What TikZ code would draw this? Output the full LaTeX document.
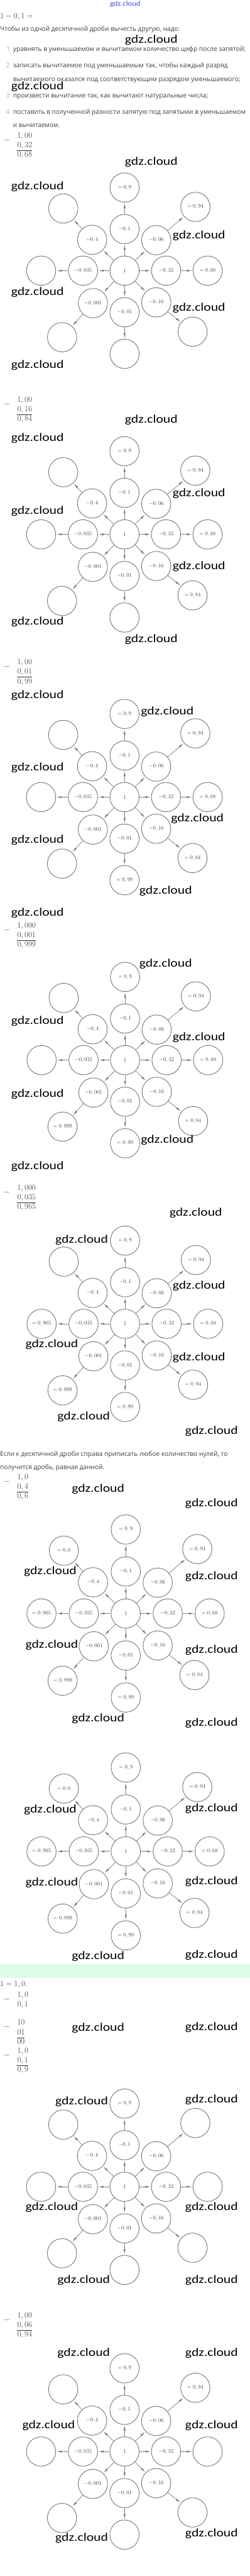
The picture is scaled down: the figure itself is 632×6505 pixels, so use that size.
\RequirePackage{fix-cm}
\documentclass[tikz,border=0pt]{standalone}
\usepackage{graphicx}
\usepackage{fontspec}
\newfontfamily\osans{Open Sans}
\newfontfamily\calib{Carlito}
\usetikzlibrary{arrows.meta}
\definecolor{mint}{RGB}{220,252,231}
\definecolor{wmblue}{RGB}{70,70,210}
\tikzset{
  circ/.style={circle, draw=black!55, line width=1.4pt, minimum size=74pt, inner sep=0pt,
    font=\fontsize{14}{16}\selectfont, text=black!80},
  arr/.style={draw=black!50, line width=1.2pt, shorten >=1.5pt, -{Latex[length=13pt,width=5.5pt]}},
  body/.style={anchor=base west, inner sep=0pt, font=\osans\fontsize{16.5}{19}\selectfont, text=black!75},
  lnum/.style={body, text=black!30},
  wm/.style={inner sep=0pt, font=\calib\fontsize{29}{32}\selectfont, text=black},
  stknum/.style={anchor=base west, inner sep=0pt, font=\fontsize{20.5}{24}\selectfont, text=black!80},
  stkmin/.style={inner sep=0pt, font=\fontsize{20.5}{24}\selectfont, text=black!80},
  stkline/.style={draw=black!80, line width=0.9pt},
  mathline/.style={anchor=base west, inner sep=0pt, font=\fontsize{20.5}{24}\selectfont, text=black!80}
}
\newcommand\fit[2]{\resizebox{#1pt}{\height}{#2}}
\newcommand\wmk[3]{\node[wm] (#1) at (#2,#3) {\resizebox{133pt}{\height}{gdz.cloud}};}
\newcommand\stk[5]{%
  \begin{scope}[name prefix=#1-]
    \node[stkmin] (m) at (17.5,#2+6) {$-$};
    \node[stknum] (a) at (43.5,#2) {$#3$};
    \node[stknum] (b) at (43.5,#2+24) {$#4$};
    \if\relax\detokenize{#5}\relax\else
      \node[stknum] (c) at (43.5,#2+48) {$#5$};
      \coordinate (ly) at (0,#2+31.5);
      \draw[stkline] (c.west |- ly) -- (c.east |- ly);
    \fi
  \end{scope}}
\newcommand\dgset[8]{\def\dgU{#1}\def\dgUL{#2}\def\dgUR{#3}\def\dgL{#4}\def\dgR{#5}\def\dgDL{#6}\def\dgD{#7}\def\dgDR{#8}}
\newcommand\diag[4]{%
  \begin{scope}[shift={(#2,#3)}, scale=#4, name prefix=#1-]
    \node[circ] (c) at (0,0) {$1$};
    \node[circ] (u1) at (0,-105) {$-0,1$};
    \node[circ] (u2) at (0,-210) {\dgU};
    \node[circ] (ul1) at (-82,-78) {$-0,4$};
    \node[circ] (ul2) at (-155,-157) {\dgUL};
    \node[circ] (ur1) at (80,-77) {$-0,06$};
    \node[circ] (ur2) at (179,-161) {\dgUR};
    \node[circ] (l1) at (-105,0) {$-0,035$};
    \node[circ] (l2) at (-211,0) {\dgL};
    \node[circ] (r1) at (105,0) {$-0,32$};
    \node[circ] (r2) at (210,0) {\dgR};
    \node[circ] (dl1) at (-80,82) {$-0,001$};
    \node[circ] (dl2) at (-158,168) {\dgDL};
    \node[circ] (d1) at (0,105) {$-0,01$};
    \node[circ] (d2) at (0,210) {\dgD};
    \node[circ] (dr1) at (80,80) {$-0,16$};
    \node[circ] (dr2) at (172,154) {\dgDR};
    \foreach \a in {u,ul,ur,l,r,dl,d,dr}{\draw[arr] (c) -- (\a1); \draw[arr] (\a1) -- (\a2);}
  \end{scope}}
\begin{document}
\begin{tikzpicture}[x=1pt,y=-1pt]
\useasboundingbox (0,0) rectangle (632,6505);
\fill[white] (0,0) rectangle (632,6505);
\fill[mint] (0,4959) rectangle (632,4994);

\node[inner sep=0pt, font=\calib\fontsize{17.5}{20}\selectfont, text=wmblue] (top) at (316.5,11) {\resizebox{77pt}{\height}{gdz.cloud}};
\node[mathline] (eq0) at (0,47) {$1-0,1=$};

\node[body] (t0) at (0,79.2) {\fit{454.7}{Чтобы из одной десятичной дроби вычесть другую, надо:}};
\node[lnum] (n1) at (16,129.3) {1};
\node[body] (t1) at (33,129.3) {\fit{587.7}{уравнять в уменьшаемом и вычитаемом количество цифр после запятой;}};
\node[lnum] (n2) at (15,171.4) {2};
\node[body] (t2) at (33,171.4) {\fit{542.6}{записать вычитаемое под уменьшаемым так, чтобы каждый разряд}};
\node[body] (t2b) at (33,205) {\fit{574.8}{вычитаемого оказался под соответствующим разрядом уменьшаемого;}};
\node[lnum] (n3) at (15,246.8) {3};
\node[body] (t3) at (33,246.8) {\fit{493}{произвести вычитание так, как вычитают натуральные числа;}};
\node[lnum] (n4) at (15,288.5) {4};
\node[body] (t4) at (33,288.5) {\fit{587.7}{поставить в полученной разности запятую под запятыми в уменьшаемом}};
\node[body] (t4b) at (33,321.5) {\fit{118}{и вычитаемом.}};

\stk{s1}{348.6}{1,00}{0,32}{0,68}
\dgset{$=0,9$}{}{$=0,94$}{}{$=0,68$}{}{}{}
\diag{d1}{315}{683.5}{1}

\stk{s2}{1015}{1,00}{0,16}{0,84}
\dgset{$=0,9$}{}{$=0,94$}{}{$=0,68$}{}{}{$=0,84$}
\diag{d2}{314.8}{1349.4}{1}

\stk{s3}{1678.4}{1,00}{0,01}{0,99}
\dgset{$=0,9$}{}{$=0,94$}{}{$=0,68$}{}{$=0,99$}{$=0,84$}
\diag{d3}{314.8}{2012.8}{1}

\stk{s4}{2343.2}{1,000}{0,001}{0,999}
\dgset{$=0,9$}{}{$=0,94$}{}{$=0,68$}{$=0,999$}{$=0,99$}{$=0,84$}
\diag{d4}{316.2}{2677}{1}

\stk{s5}{3005.9}{1,000}{0,035}{0,965}
\dgset{$=0,9$}{}{$=0,94$}{$=0,965$}{$=0,68$}{$=0,999$}{$=0,99$}{$=0,84$}
\diag{d5}{316.2}{3342.9}{1}

\node[body] (t5) at (0,3677.3) {\fit{575.6}{Если к десятичной дроби справа приписать любое количество нулей, то}};
\node[body] (t5b) at (0,3709.9) {\fit{264}{получится дробь, равная данной.}};

\stk{s6}{3736}{1,0}{0,4}{0,6}
\dgset{$=0,9$}{$=0,6$}{$=0,94$}{$=0,965$}{$=0,68$}{$=0,999$}{$=0,99$}{$=0,84$}
\diag{d6}{318}{4074.4}{1.01}
\diag{d7}{318}{4675.2}{1.01}

\node[mathline] (eq1) at (0,5015.7) {$1=1,0.$};
\stk{s7}{5042.5}{1,0}{0,1}{}
\stk{s8}{5113.7}{10}{01}{09}
\stk{s9}{5184.3}{1,0}{0,1}{0,9}
\dgset{$=0,9$}{}{}{}{}{}{}{}
\diag{d8}{314.8}{5522}{1}

\stk{s10}{5853}{1,00}{0,06}{0,94}
\dgset{$=0,9$}{}{$=0,94$}{}{}{}{}{}
\diag{d9}{314.8}{6190.5}{1}

\wmk{w1}{382.5}{101.6}
\wmk{w2}{94.7}{218}
\wmk{w3}{382.5}{410}
\wmk{w4}{94.7}{472}
\wmk{w5}{503}{594.7}
\wmk{w6}{94.7}{738}
\wmk{w7}{503}{777.5}
\wmk{w8}{94.7}{922}
\wmk{w9}{382.5}{1061}
\wmk{w10}{94.7}{1106}
\wmk{w11}{503}{1245.5}
\wmk{w12}{94.7}{1290}
\wmk{w13}{503}{1430.5}
\wmk{w14}{94.7}{1570}
\wmk{w15}{382.5}{1614}
\wmk{w16}{94.7}{1755.5}
\wmk{w17}{423}{1798}
\wmk{w18}{94.7}{1938}
\wmk{w19}{499}{2066.6}
\wmk{w20}{94.7}{2122}
\wmk{w21}{419}{2250}
\wmk{w22}{94.7}{2306}
\wmk{w23}{419}{2434.6}
\wmk{w24}{94.7}{2578}
\wmk{w25}{503}{2620}
\wmk{w26}{94.7}{2762.5}
\wmk{w27}{423}{2879}
\wmk{w28}{94.7}{2945}
\wmk{w29}{495}{3063}
\wmk{w30}{206.6}{3131}
\wmk{w31}{503}{3247}
\wmk{w32}{131}{3394.7}
\wmk{w33}{503}{3429}
\wmk{w34}{211.6}{3577}
\wmk{w35}{535}{3613.6}
\wmk{w36}{248}{3760.5}
\wmk{w37}{535}{3797}
\wmk{w38}{127}{3969}
\wmk{w39}{535}{3981.6}
\wmk{w40}{131}{4153.6}
\wmk{w41}{535}{4166}
\wmk{w42}{248}{4340}
\wmk{w43}{535}{4351}
\wmk{w44}{127}{4570}
\wmk{w45}{535}{4567}
\wmk{w46}{131}{4754.5}
\wmk{w47}{535}{4751}
\wmk{w48}{248}{4940}
\wmk{w49}{535}{4936.5}
\wmk{w50}{248}{5122}
\wmk{w51}{535}{5119}
\wmk{w52}{206.6}{5306.6}
\wmk{w53}{535}{5302}
\wmk{w54}{131}{5574}
\wmk{w55}{535}{5574}
\wmk{w56}{211.6}{5758}
\wmk{w57}{535}{5758}
\wmk{w58}{211.6}{5942}
\wmk{w59}{535}{5942}
\wmk{w60}{123}{6125.6}
\wmk{w61}{535}{6125.6}
\wmk{w62}{206.6}{6409}
\wmk{w63}{535}{6397.7}
\end{tikzpicture}
\end{document}
